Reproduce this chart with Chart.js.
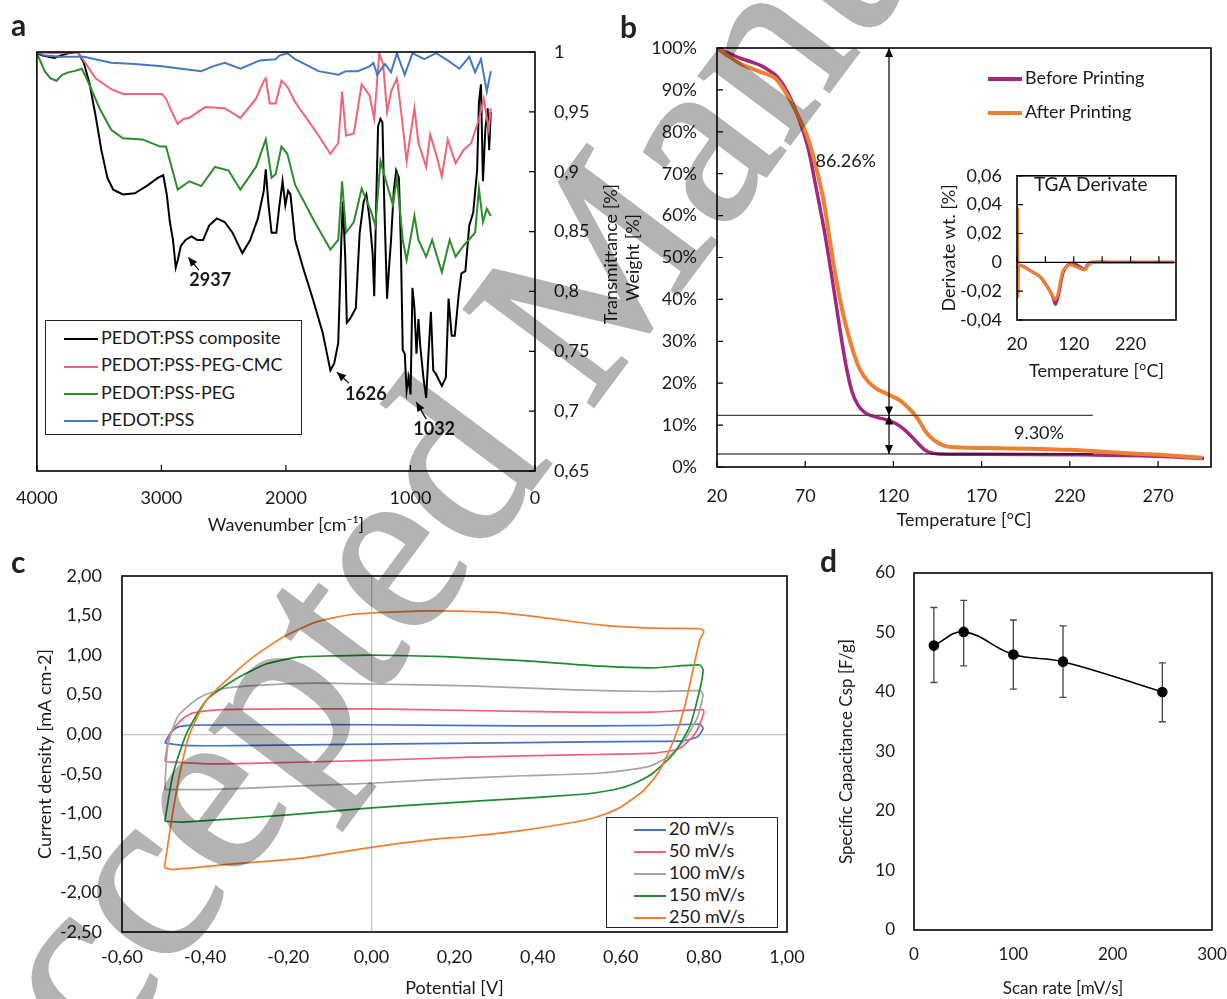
<!DOCTYPE html>
<html lang="en">
<head>
<meta charset="utf-8">
<title>PEDOT:PSS characterisation</title>
<script src="https://cdn.jsdelivr.net/npm/chart.js@4.4.1/dist/chart.umd.min.js"></script>
<style>
  body { margin: 0; background: #fff; }
  #fig { position: relative; width: 1227px; height: 999px; overflow: hidden; background: #fff; font-family: Lato, sans-serif; color: #1a1a1a; }
  #fig canvas { position: absolute; }
  .panel { position: absolute; font-size: 30px; font-weight: bold; line-height: 30px; color: #222; }
  .legbox { position: absolute; border: 1.5px solid #222; background: #fff; box-sizing: border-box; }
  .row { position: absolute; font-size: 18px; line-height: 22px; white-space: nowrap; }
  .row i { display: inline-block; height: 0; vertical-align: middle; margin-right: 3px; }
  .vtitle { position: absolute; width: 240px; text-align: center; font-size: 18px; line-height: 22px; transform: rotate(-90deg); }
  #wm { position: absolute; left: 0; top: 0; mix-blend-mode: multiply; pointer-events: none; }
</style>
</head>
<body>
<div id="fig">
  <canvas id="ca" width="620" height="540" style="left:0;top:0"></canvas>
  <canvas id="cb" width="607" height="540" style="left:620px;top:0"></canvas>
  <canvas id="cbi" width="266" height="240" style="left:934px;top:150px"></canvas>
  <canvas id="cc" width="790" height="459" style="left:30px;top:540px"></canvas>
  <canvas id="cd" width="410" height="459" style="left:834px;top:540px"></canvas>

  <div class="panel" style="left:11px;top:9px">a</div>
  <div class="panel" style="left:620px;top:11px">b</div>
  <div class="panel" style="left:11px;top:546px">c</div>
  <div class="panel" style="left:820px;top:545px">d</div>
  <div class="vtitle" style="left:490px;top:243px">Transmittance [%]</div>
  <div class="legbox" style="left:45px;top:320px;width:257px;height:115px"></div>
  <div class="legbox" style="left:606px;top:817px;width:172px;height:111px"></div>
</div>

<script>
// (a) FTIR spectra: wavenumber [cm-1] and transmittance
const wnComposite = [4000,3953,3906,3859,3811,3749,3670,3623,3576,3529,3482,3434,3387,3309,3214,3120,3026,2985,2957,2932,2907,2885,2869,2844,2806,2759,2712,2665,2617,2555,2492,2429,2350,2287,2225,2178,2162,2140,2115,2077,2052,2027,2005,1983,1964,1926,1863,1785,1706,1643,1612,1580,1555,1543,1524,1511,1486,1439,1408,1376,1354,1329,1304,1291,1273,1260,1241,1225,1210,1188,1172,1156,1134,1115,1093,1078,1062,1046,1031,1015,999,984,968,952,936,921,896,874,858,836,817,795,748,716,694,669,644,613,591,559,528,496,465,450,434,418,399,380,368,355];
const trComposite = [0.999,0.997,0.996,0.995,0.997,0.999,1.000,0.991,0.973,0.947,0.918,0.895,0.885,0.881,0.882,0.888,0.895,0.897,0.881,0.858,0.843,0.820,0.826,0.838,0.843,0.846,0.843,0.843,0.855,0.861,0.858,0.849,0.832,0.843,0.861,0.884,0.902,0.872,0.849,0.849,0.872,0.892,0.872,0.884,0.881,0.843,0.820,0.794,0.766,0.734,0.740,0.757,0.843,0.875,0.829,0.774,0.777,0.786,0.849,0.875,0.881,0.861,0.832,0.796,0.884,0.938,0.944,0.941,0.872,0.794,0.820,0.843,0.884,0.901,0.895,0.843,0.751,0.748,0.717,0.728,0.714,0.803,0.786,0.748,0.777,0.754,0.728,0.711,0.743,0.783,0.734,0.731,0.721,0.728,0.794,0.763,0.763,0.797,0.815,0.817,0.855,0.866,0.901,0.958,0.973,0.892,0.935,0.953,0.918,0.950];
const wnPegCmc = [4000,3874,3670,3529,3403,3309,3152,2995,2963,2916,2869,2822,2775,2649,2492,2366,2240,2178,2162,2130,2083,2036,2005,1983,1926,1769,1643,1580,1549,1518,1455,1392,1329,1291,1251,1220,1188,1156,1109,1078,1031,968,936,874,842,795,748,701,638,575,512,450,412,371,355];
const trPegCmc = [1.000,0.999,1.000,0.978,0.969,0.965,0.965,0.965,0.961,0.950,0.940,0.944,0.945,0.954,0.953,0.945,0.961,0.976,0.978,0.957,0.957,0.976,0.973,0.970,0.958,0.935,0.915,0.924,0.967,0.930,0.932,0.973,0.964,0.944,0.999,0.990,0.950,0.967,0.978,0.953,0.909,0.953,0.924,0.904,0.931,0.915,0.896,0.927,0.907,0.918,0.924,0.944,0.961,0.935,0.953];
const wnPeg = [4000,3937,3890,3843,3796,3749,3701,3639,3592,3497,3403,3309,3152,3010,2963,2869,2775,2680,2570,2460,2366,2240,2162,2115,2083,2036,1989,1926,1769,1643,1580,1549,1518,1455,1392,1314,1282,1241,1204,1141,1109,1062,1031,968,936,874,826,748,685,638,575,481,450,418,387,355];
const trPeg = [0.999,0.984,0.978,0.976,0.981,0.983,0.984,0.986,0.976,0.953,0.935,0.928,0.927,0.921,0.921,0.885,0.892,0.888,0.904,0.901,0.885,0.904,0.927,0.895,0.898,0.921,0.915,0.889,0.858,0.835,0.843,0.892,0.849,0.858,0.886,0.866,0.855,0.909,0.895,0.872,0.895,0.843,0.826,0.863,0.843,0.829,0.843,0.816,0.843,0.829,0.838,0.849,0.886,0.858,0.869,0.863];
const wnPss = [4000,3937,3811,3623,3403,3214,2995,2680,2586,2492,2366,2209,2083,2052,1989,1926,1738,1580,1518,1423,1329,1298,1267,1204,1156,1109,1046,984,889,795,701,607,528,481,434,387,355];
const trPss = [1.000,0.997,0.996,0.996,0.991,0.990,0.988,0.984,0.988,0.991,0.986,0.993,0.994,0.997,0.999,0.994,0.984,0.981,0.984,0.984,0.988,0.991,0.981,0.990,0.983,0.999,0.981,0.999,0.994,0.999,0.993,0.986,0.996,0.983,0.994,0.967,0.984];

// (b) TGA weight [%] and its derivative
const tempTicks = [20, 70, 120, 170, 220, 270];
const tgaTempBefore = [20,25,33,40,45,50,54,60,67,72,76,81,85,90,93,96.5,100,104,108,113,118,122,126,130,134,138,142,146,160,200,230,260,280,296];
const tgaBefore = [100,99.1,97.6,96.6,95.8,94.5,93.2,89.4,82.4,75.5,67,56,45.7,32,24.5,18,14.7,12.9,12.2,11.6,11.0,10.2,9.0,7.4,5.6,4.0,3.3,3.1,3.05,3.0,2.9,2.7,2.4,2.0];
const tgaTempAfter = [20,25,33,44.5,53.5,60,67,71.6,76,80.7,84,87.5,90.9,94.3,97.7,101,105.6,110,117,123.7,129,134,138,143,148.6,155,180,220,248,271,295];
const tgaAfter = [100,98.5,96.3,94.3,92.6,88.6,82.9,78.4,71.8,62.9,53.9,44.9,37.6,31.8,26.9,23.3,20.4,18.8,17.3,15.9,13.9,11.4,8.6,6.4,5.1,4.7,4.5,4.1,3.4,2.9,2.2];
const dtgTempBefore = [21,21.5,22,25,32,46,60,71,81,88,95,101,109,120,130.6,139,144.6,151.7,200,250,296];
const dtgBefore = [0.003,-0.021,-0.004,-0.002,-0.003,-0.0064,-0.0098,-0.0155,-0.022,-0.029,-0.019,-0.0075,-0.002,-0.0007,-0.003,-0.0048,-0.0015,0,0,0,0];
const dtgTempAfter = [21,21.5,22,25,32,46,60,70.7,81,87,92,97,102,113,123.5,134,140,146,155,200,250,296];
const dtgAfter = [0.038,-0.0234,-0.004,-0.002,-0.003,-0.0064,-0.0098,-0.0155,-0.022,-0.0257,-0.022,-0.012,-0.0052,-0.0018,-0.003,-0.0048,-0.0052,-0.0018,0,0,0,0];
const dtgLabels = [20, 120, 220];

// (c) cyclic voltammetry: potential [V] and current density [mA cm-2]
const cvV20 = [-0.497,-0.484,-0.466,-0.428,-0.264,0.0,0.364,0.678,0.79,0.798,0.785,0.754,0.678,0.364,0.0,-0.327,-0.453,-0.497];
const cvI20 = [-0.11,0.01,0.09,0.115,0.12,0.12,0.105,0.11,0.125,0.075,-0.03,-0.08,-0.09,-0.105,-0.125,-0.145,-0.14,-0.11];
const cvV50 = [-0.497,-0.484,-0.453,-0.428,-0.365,-0.189,0.0,0.238,0.49,0.678,0.798,0.8,0.779,0.741,0.678,0.49,0.238,0.0,-0.264,-0.39,-0.497];
const cvI50 = [-0.345,0.01,0.20,0.27,0.31,0.32,0.32,0.30,0.28,0.28,0.31,0.27,0.01,-0.18,-0.24,-0.26,-0.29,-0.33,-0.365,-0.375,-0.345];
const cvV100 = [-0.497,-0.49,-0.466,-0.415,-0.352,-0.264,-0.139,0.0,0.238,0.49,0.678,0.79,0.798,0.785,0.754,0.716,0.666,0.553,0.364,0.176,0.0,-0.2,-0.39,-0.497];
const cvI100 = [-0.70,-0.155,0.22,0.46,0.58,0.62,0.645,0.635,0.61,0.56,0.54,0.55,0.50,0.22,-0.07,-0.28,-0.41,-0.49,-0.525,-0.567,-0.62,-0.66,-0.70,-0.70];
const cvV150 = [-0.497,-0.477,-0.445,-0.397,-0.332,-0.252,-0.172,-0.092,0.0,0.176,0.364,0.553,0.678,0.79,0.798,0.79,0.766,0.728,0.678,0.645,0.6,0.54,0.49,0.364,0.176,0.0,-0.2,-0.39,-0.453,-0.497];
const cvI150 = [-1.10,-0.50,0.005,0.43,0.68,0.89,0.977,0.99,1.0,0.98,0.93,0.86,0.84,0.875,0.81,0.56,0.10,-0.24,-0.49,-0.59,-0.68,-0.74,-0.765,-0.81,-0.87,-0.93,-1.02,-1.09,-1.11,-1.10];
const cvV250 = [-0.498,-0.481,-0.461,-0.437,-0.397,-0.349,-0.284,-0.212,-0.132,-0.052,0.028,0.14,0.30,0.427,0.553,0.678,0.79,0.80,0.79,0.754,0.728,0.69,0.653,0.62,0.59,0.54,0.49,0.364,0.238,0.148,0.0,-0.172,-0.332,-0.48,-0.498];
const cvI250 = [-1.686,-1.094,-0.50,0.005,0.43,0.68,0.977,1.23,1.42,1.51,1.54,1.56,1.54,1.465,1.38,1.34,1.335,1.30,1.19,0.35,-0.07,-0.49,-0.72,-0.85,-0.95,-1.05,-1.11,-1.215,-1.29,-1.33,-1.43,-1.57,-1.64,-1.71,-1.686];

// (d) specific capacitance vs scan rate
const scanRate = [20, 50, 100, 150, 250];
const capacitance = [47.8, 50.1, 46.3, 45.1, 40.0];
const capErrLow = [41.6, 44.4, 40.5, 39.1, 35.0];
const capErrHigh = [54.2, 55.4, 52.1, 51.1, 44.9];

Chart.defaults.font.family = 'Lato';
Chart.defaults.font.size = 18;
Chart.defaults.color = '#1a1a1a';
Chart.defaults.animation = false;
Chart.defaults.responsive = false;
Chart.defaults.plugins.legend.display = false;
Chart.defaults.plugins.tooltip.enabled = false;
Chart.defaults.elements.point.radius = 0;

const pts = (xs, ys) => xs.map((x, i) => ({ x: x, y: ys[i] }));
const comma = (v, d) => (Math.abs(v) < 1e-9 ? 0 : v).toFixed(d).replace('.', ',');
const noGrid = { display: false, drawTicks: false };

function arrowHead(ctx, x1, y1, x2, y2) {
  const a = Math.atan2(y2 - y1, x2 - x1), L = 9, W = 4;
  ctx.beginPath();
  ctx.moveTo(x2, y2);
  ctx.lineTo(x2 - L * Math.cos(a) + W * Math.sin(a), y2 - L * Math.sin(a) - W * Math.cos(a));
  ctx.lineTo(x2 - L * Math.cos(a) - W * Math.sin(a), y2 - L * Math.sin(a) + W * Math.cos(a));
  ctx.closePath();
  ctx.fill();
}

// plot-area border plus Excel style inside tick marks
const frame = {
  id: 'frame',
  afterDraw(chart, args, o) {
    const { ctx, chartArea: a, scales: { x, y } } = chart;
    const len = 6;
    ctx.save();
    ctx.strokeStyle = '#000';
    ctx.lineWidth = 1.2;
    ctx.beginPath();
    if (o.xTicks) {
      const base = o.xTicks === 'zero' ? y.getPixelForValue(0) : a.bottom;
      if (o.xTicks === 'zero') { ctx.moveTo(a.left, base); ctx.lineTo(a.right, base); }
      x.ticks.forEach(t => { const px = x.getPixelForValue(t.value); ctx.moveTo(px, base); ctx.lineTo(px, base - len); });
    }
    if (o.yTicks) {
      const side = o.yTicks === 'right' ? a.right : a.left, dir = o.yTicks === 'right' ? -1 : 1;
      y.ticks.forEach(t => { const py = y.getPixelForValue(t.value); ctx.moveTo(side, py); ctx.lineTo(side + dir * len, py); });
    }
    ctx.stroke();
    ctx.lineWidth = 1.6;
    ctx.strokeRect(a.left, a.top, a.right - a.left, a.bottom - a.top);
    ctx.restore();
  }
};

// guide lines, arrows and labels placed in data units
const notes = {
  id: 'notes',
  afterDatasetsDraw(chart, args, o) {
    const { ctx, scales: { x, y } } = chart;
    ctx.save();
    (o.lines || []).forEach(l => {
      const x1 = x.getPixelForValue(l.x1), y1 = y.getPixelForValue(l.y1);
      const x2 = x.getPixelForValue(l.x2), y2 = y.getPixelForValue(l.y2);
      ctx.strokeStyle = ctx.fillStyle = l.color || '#000';
      ctx.lineWidth = l.width || 1.2;
      ctx.beginPath(); ctx.moveTo(x1, y1); ctx.lineTo(x2, y2); ctx.stroke();
      if (l.head2) arrowHead(ctx, x1, y1, x2, y2);
      if (l.head1) arrowHead(ctx, x2, y2, x1, y1);
    });
    (o.texts || []).forEach(t => {
      ctx.font = t.font || '18px Lato';
      ctx.fillStyle = '#1a1a1a';
      ctx.textAlign = 'center';
      ctx.textBaseline = 'middle';
      ctx.fillText(t.text, x.getPixelForValue(t.x), y.getPixelForValue(t.y));
    });
    ctx.restore();
  }
};

const errorBars = {
  id: 'errorBars',
  beforeDatasetsDraw(chart, args, o) {
    const { ctx, scales: { x, y } } = chart;
    ctx.save();
    ctx.strokeStyle = '#444';
    ctx.lineWidth = 1.3;
    ctx.beginPath();
    o.x.forEach((xv, i) => {
      const px = x.getPixelForValue(xv), top = y.getPixelForValue(o.high[i]), bot = y.getPixelForValue(o.low[i]);
      ctx.moveTo(px, top); ctx.lineTo(px, bot);
      ctx.moveTo(px - 3.5, top); ctx.lineTo(px + 3.5, top);
      ctx.moveTo(px - 3.5, bot); ctx.lineTo(px + 3.5, bot);
    });
    ctx.stroke();
    ctx.restore();
  }
};

function addLegend(chart, x, y0, gap, lineW, thick) {
  const fig = document.getElementById('fig');
  chart.data.datasets.forEach((d, i) => {
    const row = document.createElement('div');
    row.className = 'row';
    row.style.left = x + 'px';
    row.style.top = (y0 + i * gap - 11) + 'px';
    row.innerHTML = '<i style="width:' + lineW + 'px;border-top:' + thick + 'px solid ' + d.borderColor + '"></i>' + d.label;
    fig.appendChild(row);
  });
}

// ---- a ----
const chartA = new Chart(document.getElementById('ca'), {
  type: 'scatter',
  data: {
    datasets: [
      { label: 'PEDOT:PSS composite', data: pts(wnComposite, trComposite), borderColor: '#000000', order: 4 },
      { label: 'PEDOT:PSS-PEG-CMC', data: pts(wnPegCmc, trPegCmc), borderColor: '#F0647A', order: 3 },
      { label: 'PEDOT:PSS-PEG', data: pts(wnPeg, trPeg), borderColor: '#2A8C2A', order: 2 },
      { label: 'PEDOT:PSS', data: pts(wnPss, trPss), borderColor: '#4678BE', order: 1 }
    ].map(d => Object.assign(d, { showLine: true, borderWidth: 2, pointRadius: 0 }))
  },
  options: {
    layout: { padding: { left: 32, top: 52 } },
    scales: {
      x: {
        type: 'linear', reverse: true, min: 0, max: 4000,
        grid: noGrid, border: { display: false },
        ticks: { stepSize: 1000, padding: 16, maxRotation: 0, callback: v => String(v) },
        title: { display: true, text: 'Wavenumber [cm⁻¹]', padding: { top: 0, bottom: 4 } },
        afterFit: s => { s.height = 69; }
      },
      y: {
        position: 'right', min: 0.65, max: 1,
        grid: noGrid, border: { display: false },
        ticks: { stepSize: 0.05, padding: 19, callback: v => String(Math.round(v * 100) / 100).replace('.', ',') },
        afterFit: s => { s.width = 85; }
      }
    },
    plugins: {
      frame: { xTicks: 'bottom', yTicks: 'right' },
      notes: {
        lines: [
          { x1: 2699, y1: 0.8177, x2: 2784, y2: 0.8285, head2: true },
          { x1: 1494, y1: 0.7234, x2: 1590, y2: 0.7325, head2: true },
          { x1: 873, y1: 0.6933, x2: 953, y2: 0.7075, head2: true }
        ],
        texts: [
          { x: 2608, y: 0.809, text: '2937', font: 'bold 18px Lato' },
          { x: 1359, y: 0.714, text: '1626', font: 'bold 18px Lato' },
          { x: 810, y: 0.685, text: '1032', font: 'bold 18px Lato' }
        ]
      }
    }
  },
  plugins: [frame, notes]
});
addLegend(chartA, 64, 337, 27.3, 34, 2.5);

// ---- b ----
const chartB = new Chart(document.getElementById('cb'), {
  type: 'scatter',
  data: {
    datasets: [
      { label: 'Before Printing', data: pts(tgaTempBefore, tgaBefore), borderColor: '#A0287F', borderWidth: 3.5, order: 2 },
      { label: 'After Printing', data: pts(tgaTempAfter, tgaAfter), borderColor: '#EF8033', borderWidth: 4, order: 1 }
    ].map(d => Object.assign(d, { showLine: true, pointRadius: 0, cubicInterpolationMode: 'monotone' }))
  },
  options: {
    layout: { padding: { top: 48, right: 16 } },
    scales: {
      x: {
        min: 20, max: 300,
        grid: noGrid, border: { display: false },
        afterBuildTicks: s => { s.ticks = tempTicks.map(v => ({ value: v })); },
        ticks: { padding: 18, maxRotation: 0, autoSkip: false },
        title: { display: true, text: 'Temperature [°C]', padding: { top: 0, bottom: 9 } },
        afterFit: s => { s.height = 73; }
      },
      y: {
        min: 0, max: 100,
        grid: noGrid, border: { display: false },
        ticks: { stepSize: 10, padding: 20, callback: v => v + '%' },
        title: { display: true, text: 'Weight [%]', padding: { top: 2, bottom: 0 } },
        afterFit: s => { s.width = 97; }
      }
    },
    plugins: {
      frame: { xTicks: 'bottom', yTicks: 'left' },
      notes: {
        lines: [
          { x1: 20, y1: 12.3, x2: 233, y2: 12.3, color: '#444', width: 1.2 },
          { x1: 20, y1: 3.1, x2: 233, y2: 3.1, color: '#000', width: 1.2 },
          { x1: 117.5, y1: 100, x2: 117.5, y2: 12.3, head1: true, head2: true },
          { x1: 117.5, y1: 12.3, x2: 117.5, y2: 3.1, head1: true, head2: true }
        ],
        texts: [
          { x: 93, y: 73, text: '86.26%' },
          { x: 202.5, y: 8.1, text: '9.30%' }
        ]
      }
    }
  },
  plugins: [frame, notes]
});
addLegend(chartB, 988, 77, 34, 34, 4);

// ---- b inset ----
new Chart(document.getElementById('cbi'), {
  type: 'scatter',
  data: {
    datasets: [
      { label: 'Before Printing', data: pts(dtgTempBefore, dtgBefore), borderColor: '#A0287F', order: 2 },
      { label: 'After Printing', data: pts(dtgTempAfter, dtgAfter), borderColor: '#EF8033', order: 1 }
    ].map(d => Object.assign(d, { showLine: true, pointRadius: 0, borderWidth: 3, tension: 0.3 }))
  },
  options: {
    layout: { padding: { top: 21, right: 24 } },
    scales: {
      x: {
        min: 20, max: 300,
        grid: noGrid, border: { display: false },
        afterBuildTicks: s => { s.ticks = tempTicks.map(v => ({ value: v })); },
        ticks: { padding: 13, maxRotation: 0, autoSkip: false, callback: v => dtgLabels.includes(v) ? String(v) : '' },
        title: { display: true, text: 'Temperature [°C]', padding: { top: 0, bottom: 8 } },
        afterFit: s => { s.height = 70; }
      },
      y: {
        min: -0.04, max: 0.06,
        grid: noGrid, border: { display: false },
        ticks: { stepSize: 0.02, padding: 15, callback: v => Math.abs(v) < 1e-9 ? '0' : comma(v, 2) },
        title: { display: true, text: 'Derivate wt. [%]', padding: { top: 4, bottom: 0 } },
        afterFit: s => { s.width = 83; }
      }
    },
    plugins: {
      frame: { xTicks: 'zero', yTicks: 'left' },
      notes: { texts: [{ x: 150, y: 0.0535, text: 'TGA Derivate', font: '19px Lato' }] }
    }
  },
  plugins: [frame, notes]
});

// ---- c ----
const zeroLine = c => (Math.abs(c.tick.value) < 1e-9 ? '#c4c4c4' : 'rgba(0,0,0,0)');
const chartC = new Chart(document.getElementById('cc'), {
  type: 'scatter',
  data: {
    datasets: [
      { label: '20 mV/s', data: pts(cvV20, cvI20), borderColor: '#4472C4', order: 5 },
      { label: '50 mV/s', data: pts(cvV50, cvI50), borderColor: '#F2607A', order: 4 },
      { label: '100 mV/s', data: pts(cvV100, cvI100), borderColor: '#A5A5A5', order: 3 },
      { label: '150 mV/s', data: pts(cvV150, cvI150), borderColor: '#1E8C2E', order: 2 },
      { label: '250 mV/s', data: pts(cvV250, cvI250), borderColor: '#F07E2C', order: 1 }
    ].map(d => Object.assign(d, { showLine: true, pointRadius: 0, borderWidth: 1.7, tension: 0.2 }))
  },
  options: {
    layout: { padding: { top: 36, right: 33 } },
    scales: {
      x: {
        min: -0.6, max: 1,
        grid: { color: zeroLine, drawTicks: false, lineWidth: 1.3 }, border: { display: false },
        ticks: { stepSize: 0.2, padding: 14, maxRotation: 0, autoSkip: false, callback: v => comma(v, 2) },
        title: { display: true, text: 'Potential [V]', padding: { top: 0, bottom: 0 } },
        afterFit: s => { s.height = 67; }
      },
      y: {
        min: -2.5, max: 2,
        grid: { color: zeroLine, drawTicks: false, lineWidth: 1.3 }, border: { display: false },
        ticks: { stepSize: 0.5, padding: 20, callback: v => comma(v, 2) },
        title: { display: true, text: 'Current density [mA cm-2]', padding: { top: 4, bottom: 0 } },
        afterFit: s => { s.width = 92; }
      }
    },
    plugins: { frame: {} }
  },
  plugins: [frame]
});
addLegend(chartC, 634, 828, 21.9, 32, 2);

// ---- d ----
new Chart(document.getElementById('cd'), {
  type: 'scatter',
  data: {
    datasets: [{
      label: 'Csp', data: pts(scanRate, capacitance), showLine: true,
      borderColor: '#000', backgroundColor: '#000', borderWidth: 1.6, tension: 0.4,
      pointRadius: 4.5
    }]
  },
  options: {
    layout: { padding: { top: 33, right: 32 } },
    scales: {
      x: {
        min: 0, max: 300,
        grid: noGrid, border: { display: false },
        ticks: { stepSize: 100, padding: 14, maxRotation: 0, font: { size: 17 } },
        title: { display: true, text: 'Scan rate [mV/s]', font: { size: 17 }, padding: { top: 0, bottom: 0 } },
        afterFit: s => { s.height = 69; }
      },
      y: {
        min: 0, max: 60,
        grid: noGrid, border: { display: false },
        ticks: { stepSize: 10, padding: 19, font: { size: 17 } },
        title: { display: true, text: 'Specific Capacitance Csp [F/g]', font: { size: 17 }, padding: { top: 2, bottom: 0 } },
        afterFit: s => { s.width = 80; }
      }
    },
    plugins: {
      frame: {},
      errorBars: { x: scanRate, low: capErrLow, high: capErrHigh }
    }
  },
  plugins: [frame, errorBars]
});
</script>

<svg id="wm" width="1227" height="999" style="position:absolute;left:0;top:0">
  <text x="-6" y="1208" transform="rotate(-53.2 -6 1208)" font-family="Liberation Serif" font-size="247" fill="#b3b3b3" stroke="#b3b3b3" stroke-width="3">Accepted Manuscript</text>
</svg>
</body>
</html>
